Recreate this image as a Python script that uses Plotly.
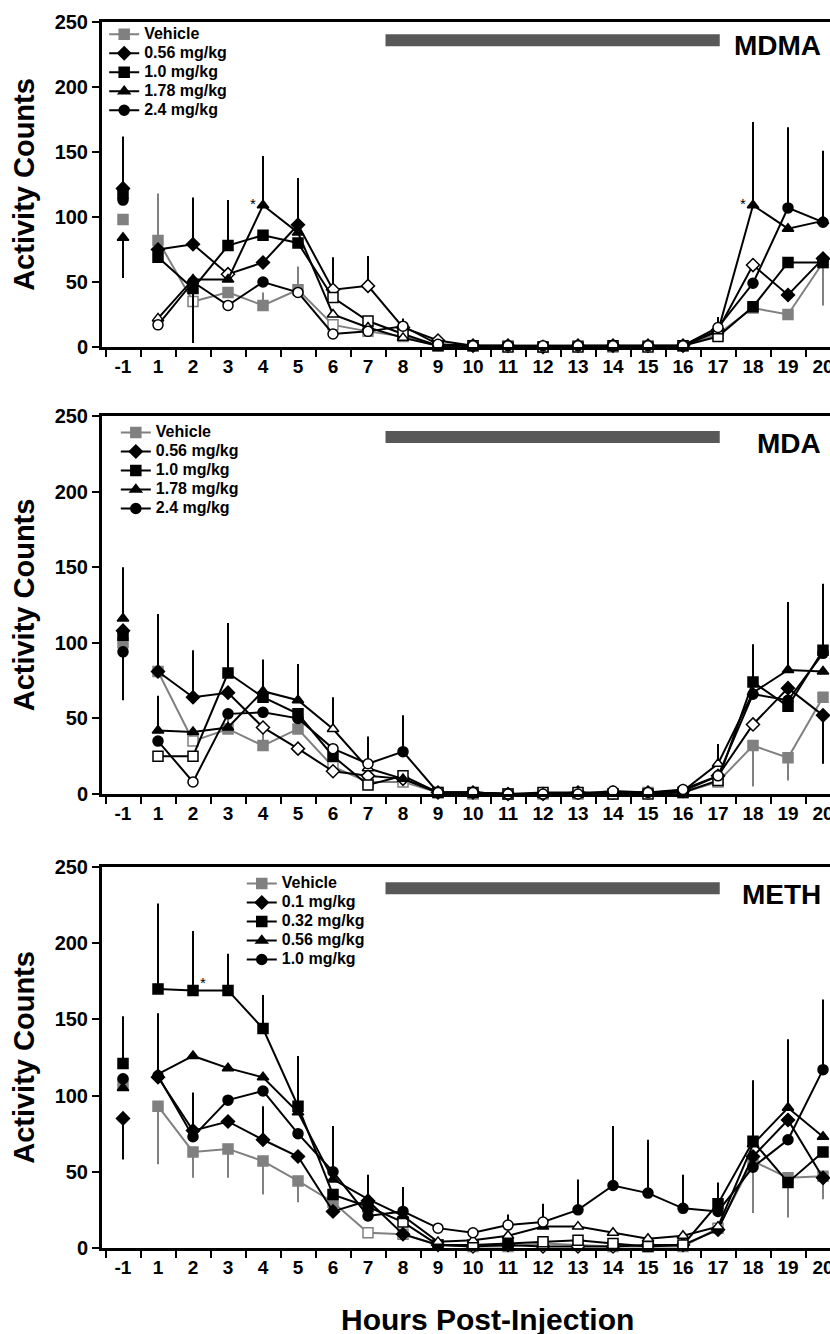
import plotly.graph_objects as go

HOURS = [-1, 1, 2, 3, 4, 5, 6, 7, 8, 9, 10, 11, 12, 13, 14, 15, 16, 17, 18, 19, 20]
HOUR_LABELS = [str(h) for h in HOURS]
DARK_PHASE = (7.5, 17.05)   # lights-off bar, in hour units

# ---------------- MDMA ----------------
MDMA_DOSES = ["Vehicle", "0.56 mg/kg", "1.0 mg/kg", "1.78 mg/kg", "2.4 mg/kg"]
MDMA_VEH = [98, 82, 35, 42, 32, 44, 17, 12, 8, 1, 1, 1, 0, 1, 0, 1, 1, 10, 30, 25, 65]
MDMA_D1 = [122, 75, 79, 56, 65, 94, 44, 47, 15, 5, 1, 1, 0, 1, 1, 1, 1, 13, 63, 40, 68]
MDMA_D2 = [118, 69, 45, 78, 86, 80, 38, 20, 10, 1, 1, 0, 0, 0, 1, 0, 1, 8, 31, 65, 65]
MDMA_D3 = [84, 22, 52, 52, 109, 88, 25, 15, 7, 1, 1, 1, 1, 1, 1, 1, 1, 12, 109, 91, 97]
MDMA_D4 = [113, 17, 50, 32, 50, 42, 10, 12, 16, 2, 1, 1, 1, 1, 1, 1, 1, 15, 49, 107, 96]
MDMA_UP = [{1: 36, 2: 12, 4: 10, 5: 18}, {-1: 40, 2: 36, 5: 36, 6: 25, 7: 23},
           {3: 35, 8: 12}, {4: 38, 18: 64}, {17: 8, 19: 62, 20: 55}]
MDMA_DN = [{20: 33}, {}, {2: 42}, {-1: 31}, {}]
MDMA_OPEN = [[2, 6, 7, 8, 9, 10, 11, 12, 13, 14, 15, 16, 17],
             [3, 6, 7, 8, 9, 10, 11, 12, 13, 14, 15, 16, 17, 18],
             [6, 7, 8, 9, 10, 11, 12, 13, 14, 15, 16, 17],
             [1, 6, 7, 8, 9, 10, 11, 12, 13, 14, 15, 16, 17],
             [1, 3, 5, 6, 7, 8, 9, 10, 11, 12, 13, 14, 15, 16, 17]]

# ---------------- MDA ----------------
MDA_DOSES = ["Vehicle", "0.56 mg/kg", "1.0 mg/kg", "1.78 mg/kg", "2.4 mg/kg"]
MDA_VEH = [100, 81, 35, 43, 32, 43, 18, 8, 8, 1, 0, 0, 0, 0, 0, 1, 1, 8, 32, 24, 64]
MDA_D1 = [108, 81, 64, 67, 44, 30, 15, 12, 10, 1, 1, 0, 0, 1, 1, 1, 2, 12, 46, 70, 52]
MDA_D2 = [105, 25, 25, 80, 64, 53, 25, 6, 12, 1, 1, 0, 1, 1, 0, 0, 1, 9, 74, 58, 95]
MDA_D3 = [116, 42, 41, 44, 68, 62, 43, 17, 10, 1, 1, 0, 0, 0, 1, 1, 2, 20, 67, 82, 81]
MDA_D4 = [94, 35, 8, 53, 54, 50, 30, 20, 28, 1, 1, 0, 0, 0, 2, 1, 3, 12, 66, 62, 93]
MDA_UP = [{3: 8, 4: 12}, {1: 38, 2: 31}, {3: 33, 18: 25, 20: 44},
          {-1: 34, 1: 23, 4: 21, 5: 24, 6: 21, 17: 13, 19: 45}, {7: 18, 8: 24}]
MDA_DN = [{18: 27, 19: 15}, {20: 32}, {}, {}, {-1: 32}]
MDA_OPEN = [[2, 6, 7, 8, 9, 10, 11, 12, 13, 14, 15, 16, 17],
            [4, 5, 6, 7, 8, 9, 10, 11, 12, 13, 14, 15, 16, 17, 18],
            [1, 2, 7, 8, 9, 10, 11, 12, 13, 14, 15, 16, 17],
            [6, 7, 9, 10, 11, 12, 13, 14, 15, 16, 17],
            [2, 6, 7, 9, 10, 11, 12, 13, 14, 15, 16, 17]]

# ---------------- METH ----------------
METH_DOSES = ["Vehicle", "0.1 mg/kg", "0.32 mg/kg", "0.56 mg/kg", "1.0 mg/kg"]
METH_VEH = [108, 93, 63, 65, 57, 44, 30, 10, 9, 2, 1, 1, 3, 2, 1, 1, 1, 13, 57, 46, 47]
METH_D1 = [85, 112, 77, 83, 71, 60, 24, 31, 9, 2, 1, 2, 1, 1, 1, 2, 2, 12, 60, 84, 46]
METH_D2 = [121, 170, 169, 169, 144, 93, 35, 27, 17, 2, 2, 3, 4, 5, 3, 1, 2, 29, 70, 43, 63]
METH_D3 = [105, 114, 126, 118, 112, 89, 45, 32, 21, 4, 5, 8, 14, 14, 10, 6, 8, 14, 68, 92, 73]
METH_D4 = [111, 113, 73, 97, 103, 75, 50, 21, 24, 13, 10, 15, 17, 25, 41, 36, 26, 24, 53, 71, 117]
METH_UP = [{}, {4: 22}, {-1: 31, 1: 56, 2: 39, 3: 24, 4: 22, 5: 33, 18: 40},
           {1: 40, 19: 45},
           {2: 29, 6: 30, 7: 27, 8: 16, 11: 7, 12: 12, 13: 20, 14: 39, 15: 35,
            16: 22, 17: 19, 20: 46}]
METH_DN = [{1: 38, 2: 17, 3: 19, 4: 22, 5: 14, 18: 34, 19: 26, 20: 15},
           {-1: 27}, {}, {}, {}]
METH_OPEN = [[7, 8, 9, 10, 11, 12, 13, 14, 15, 16, 17],
             [9, 10, 11, 12, 13, 14, 15, 16],
             [8, 10, 12, 13, 14, 15, 16],
             [9, 10, 11, 13, 14, 15, 16, 17],
             [9, 10, 11, 12]]

# ---------------- styling ----------------
SYMBOLS = ["square", "diamond", "square", "triangle-up", "circle"]
COLORS = ["#808080", "#000000", "#000000", "#000000", "#000000"]
FONT = "Liberation Sans, Arial, sans-serif"

PANELS = [
    ("MDMA", MDMA_DOSES, [MDMA_VEH, MDMA_D1, MDMA_D2, MDMA_D3, MDMA_D4], MDMA_UP, MDMA_DN, MDMA_OPEN,
     [(3.72, 110), (17.72, 110)]),
    ("MDA", MDA_DOSES, [MDA_VEH, MDA_D1, MDA_D2, MDA_D3, MDA_D4], MDA_UP, MDA_DN, MDA_OPEN, []),
    ("METH", METH_DOSES, [METH_VEH, METH_D1, METH_D2, METH_D3, METH_D4], METH_UP, METH_DN, METH_OPEN,
     [(2.28, 174)]),
]
Y_DOMAINS = [(0.7399, 0.9835), (0.4048, 0.6882), (0.0645, 0.3501)]
LEGEND_POS = [(0.003, 0.9852), (0.019, 0.6867), (0.192, 0.3486)]

fig = go.Figure()
annotations = []
shapes = []

for p, (name, doses, series, ups, dns, opens, stars) in enumerate(PANELS):
    xa = "x" if p == 0 else f"x{p+1}"
    ya = "y" if p == 0 else f"y{p+1}"
    leg = "legend" if p == 0 else f"legend{p+1}"
    for s, vals in enumerate(series):
        col = COLORS[s]
        up = [ups[s].get(h, 0) for h in HOURS]
        dn = [dns[s].get(h, 0) for h in HOURS]
        fills = ["white" if h in opens[s] else col for h in HOURS]
        # baseline (-1) point, carries the legend entry
        fig.add_trace(go.Scatter(
            x=HOUR_LABELS[:1], y=vals[:1], mode="lines+markers",
            name=f'<span style="font-size:16px">{doses[s]}</span>',
            legend=leg, xaxis=xa, yaxis=ya, cliponaxis=False,
            line=dict(color=col, width=2),
            marker=dict(symbol=SYMBOLS[s], size=10, color=fills[:1],
                        line=dict(color=col, width=1.5)),
            error_y=dict(type="data", symmetric=False, array=up[:1], arrayminus=dn[:1],
                         width=0, thickness=2, color=col),
        ))
        fig.add_trace(go.Scatter(
            x=HOUR_LABELS[1:], y=vals[1:], mode="lines+markers", name=doses[s],
            showlegend=False, xaxis=xa, yaxis=ya, cliponaxis=False,
            line=dict(color=col, width=2),
            marker=dict(symbol=SYMBOLS[s], size=10, color=fills[1:],
                        line=dict(color=col, width=1.5)),
            error_y=dict(type="data", symmetric=False, array=up[1:], arrayminus=dn[1:],
                         width=0, thickness=2, color=col),
        ))
    # dark-phase bar
    shapes.append(dict(type="line", xref=xa, yref=ya, x0=DARK_PHASE[0], x1=DARK_PHASE[1],
                       y0=236, y1=236, line=dict(color="#585858", width=12)))
    annotations.append(dict(xref=xa, yref=ya, x=20.0, y=232, text=f"<b>{name}</b>",
                            showarrow=False, xanchor="right", yanchor="middle",
                            font=dict(family=FONT, size=28, color="black")))
    for (sx, sy) in stars:
        annotations.append(dict(xref=xa, yref=ya, x=sx, y=sy, text="*", showarrow=False,
                                font=dict(family=FONT, size=15, color="black")))
    axx = dict(type="category", categoryorder="array", categoryarray=HOUR_LABELS,
               range=[-0.6, 20.2], showline=True, linewidth=3, linecolor="black",
               mirror=True, ticks="outside", tickson="boundaries", ticklen=7,
               tickwidth=2, tickcolor="black", showgrid=False, zeroline=False,
               anchor=ya, automargin=False,
               tickfont=dict(family=FONT, size=19, color="black", weight="bold"))
    axy = dict(range=[0, 250], dtick=50, showline=True, linewidth=3, linecolor="black",
               ticks="outside", ticklen=7, tickwidth=2, tickcolor="black",
               showgrid=False, zeroline=False, anchor=xa, automargin=False,
               domain=list(Y_DOMAINS[p]),
               tickfont=dict(family=FONT, size=20, color="black", weight="bold"),
               title=dict(text="Activity Counts", standoff=12,
                          font=dict(family=FONT, size=29, color="black", weight="bold")))
    xkey = "xaxis" if p == 0 else f"xaxis{p+1}"
    ykey = "yaxis" if p == 0 else f"yaxis{p+1}"
    fig.update_layout({xkey: axx, ykey: axy})
    fig.update_layout({leg: dict(x=LEGEND_POS[p][0], y=LEGEND_POS[p][1], xanchor="left",
                                 yanchor="top", bgcolor="rgba(0,0,0,0)", tracegroupgap=0,
                                 itemwidth=30,
                                 font=dict(family=FONT, size=12, color="black", weight="bold"))})

annotations.append(dict(xref="paper", yref="paper", x=0.529, y=0.0105, text="<b>Hours Post-Injection</b>",
                        showarrow=False, xanchor="center", yanchor="middle",
                        font=dict(family=FONT, size=30, color="black")))

fig.update_layout(width=830, height=1334, margin=dict(l=102, r=0, t=0, b=0),
                  paper_bgcolor="white", plot_bgcolor="white",
                  annotations=annotations, shapes=shapes)

fig.write_html("out.html")
